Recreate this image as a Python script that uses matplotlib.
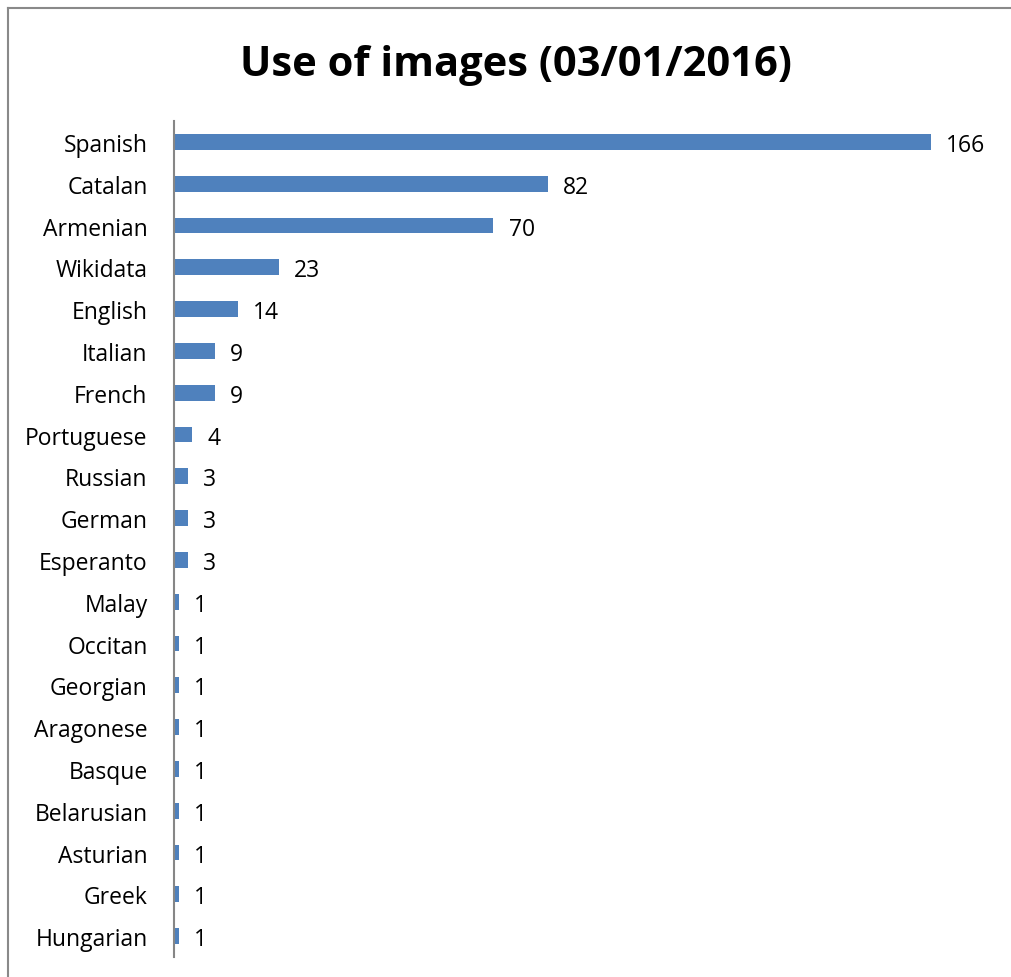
import matplotlib.pyplot as plt
from matplotlib.lines import Line2D

languages = ['Spanish', 'Catalan', 'Armenian', 'Wikidata', 'English', 'Italian',
             'French', 'Portuguese', 'Russian', 'German', 'Esperanto', 'Malay',
             'Occitan', 'Georgian', 'Aragonese', 'Basque', 'Belarusian',
             'Asturian', 'Greek', 'Hungarian']
counts = [166, 82, 70, 23, 14, 9, 9, 4, 3, 3, 3, 1, 1, 1, 1, 1, 1, 1, 1, 1]

plt.rcParams['font.family'] = ['Open Sans', 'DejaVu Sans']

fig = plt.figure(figsize=(10.11, 9.78), dpi=100)
ax = fig.add_axes([0.1721, 0.0204, 0.7488, 0.8548])

ypos = list(range(len(languages)))
ax.barh(ypos, counts, height=0.38, color='#4F81BD')
for y, v in zip(ypos, counts):
    ax.annotate(str(v), (v, y), xytext=(11, 0), textcoords='offset points',
                va='center_baseline', ha='left', fontsize=16.5)

ax.set_xlim(0, 166)
ax.set_ylim(len(languages) - 0.5, -0.5)
ax.set_yticks(ypos)
ax.set_yticklabels(languages, fontsize=16.5)
ax.tick_params(axis='y', length=0, pad=19)
ax.set_xticks([])
for s in ['top', 'right', 'bottom']:
    ax.spines[s].set_visible(False)
ax.spines['left'].set_color('#868686')
ax.spines['left'].set_linewidth(1.5)

fig.text(0.51, 0.933, 'Use of images (03/01/2016)', ha='center', va='center',
         fontsize=30, fontweight='bold')

# outer chart border (only left and top visible in the crop)
fig.add_artist(Line2D([8 / 1011, 8 / 1011], [0, 1 - 9 / 978], color='#898989', lw=1.5))
fig.add_artist(Line2D([8 / 1011, 1], [1 - 9 / 978, 1 - 9 / 978], color='#898989', lw=1.5))

fig.savefig('out.png', dpi=100)
